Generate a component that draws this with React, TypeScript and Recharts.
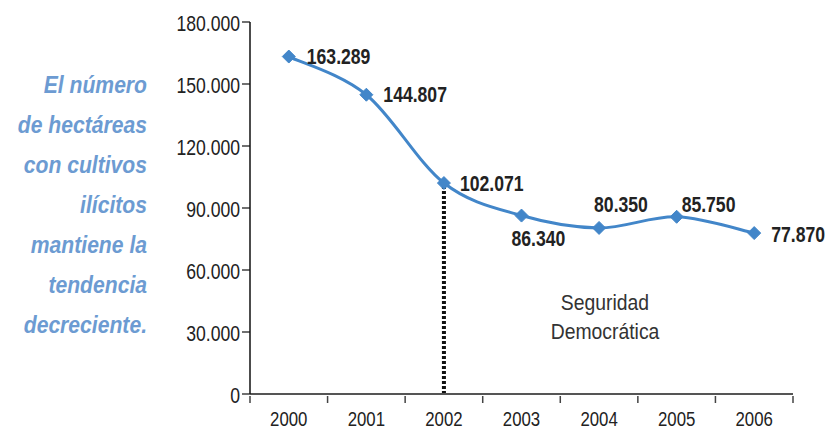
import React from 'react';
import { LineChart, Line, XAxis, YAxis, ReferenceLine, Customized } from 'recharts';

const years = ['2000', '2001', '2002', '2003', '2004', '2005', '2006'];
const hectares = [163289, 144807, 102071, 86340, 80350, 85750, 77870];
const yTicks = [0, 30000, 60000, 90000, 120000, 150000, 180000];
const noteLines = ['El número', 'de hectáreas', 'con cultivos', 'ilícitos', 'mantiene la', 'tendencia', 'decreciente.'];
const annotationLines = ['Seguridad', 'Democrática'];
const policyStartYear = '2002';

const data = years.map((year, i) => ({ year, value: hectares[i] }));

const W = 832;
const H = 431;
const MARGIN = { top: 22, right: 39, bottom: 0, left: 0 };
const Y_AXIS_W = 250;
const X_AXIS_H = 37;
const PLOT_W = W - MARGIN.left - MARGIN.right - Y_AXIS_W;
const STEP = PLOT_W / years.length;

const FONT = '"Liberation Sans", Arial, sans-serif';
const SX = 0.8; // horizontal condensing to mimic a narrow face
const BLUE = '#4286C9';
const NOTE_BLUE = '#6C9BD2';

const fmt = (n: number) => n.toString().replace(/\B(?=(\d{3})+(?!\d))/g, '.');

// Excel-like smoothed line (Catmull-Rom spline)
const smoothCurve = (context: any) => {
  let pts: [number, number][] = [];
  return {
    areaStart() {},
    areaEnd() {},
    lineStart() {
      pts = [];
    },
    lineEnd() {
      if (!pts.length) return;
      context.moveTo(pts[0][0], pts[0][1]);
      for (let i = 0; i < pts.length - 1; i++) {
        const p0 = pts[i - 1] || pts[i];
        const p1 = pts[i];
        const p2 = pts[i + 1];
        const p3 = pts[i + 2] || p2;
        const t = 1 / 6;
        context.bezierCurveTo(
          p1[0] + (p2[0] - p0[0]) * t,
          p1[1] + (p2[1] - p0[1]) * t,
          p2[0] - (p3[0] - p1[0]) * t,
          p2[1] - (p3[1] - p1[1]) * t,
          p2[0],
          p2[1]
        );
      }
    },
    point(x: number, y: number) {
      pts.push([+x, +y]);
    },
  };
};

const NarrowText = ({ x, y, anchor = 'start', size = 22, weight = 'normal', fill = '#222', scale = SX, children }: any) => (
  <text
    transform={`translate(${x},${y}) scale(${scale},1)`}
    x={0}
    y={0}
    textAnchor={anchor}
    dominantBaseline="central"
    fontFamily={FONT}
    fontSize={size}
    fontWeight={weight}
    fill={fill}
  >
    {children}
  </text>
);

// label offsets relative to each point: [dx, dy]
const labelOffsets: [number, number][] = [
  [18, 0],
  [17, 0],
  [16, 0],
  [-10, 23],
  [-5, -24],
  [5, -13],
  [17, 1],
];

const Diamond = (props: any) => {
  const { cx, cy } = props;
  if (cx == null || cy == null) return null;
  const r = 6.5;
  return (
    <polygon
      points={`${cx},${cy - r} ${cx + r},${cy} ${cx},${cy + r} ${cx - r},${cy}`}
      fill={BLUE}
      stroke={BLUE}
      strokeWidth={1}
    />
  );
};

const ValueLabel = (props: any) => {
  const { x, y, index, value } = props;
  const [dx, dy] = labelOffsets[index] || [10, 0];
  return (
    <NarrowText x={x + dx} y={y + dy} size={22} weight="bold" fill="#222">
      {fmt(value)}
    </NarrowText>
  );
};

const XTick = (props: any) => {
  const { x, y, payload, index } = props;
  const axisY = y - 8;
  return (
    <g>
      <line x1={x - STEP / 2} x2={x - STEP / 2} y1={axisY} y2={axisY + 7} stroke="#444" strokeWidth={1.5} />
      {index === years.length - 1 && (
        <line x1={x + STEP / 2} x2={x + STEP / 2} y1={axisY} y2={axisY + 7} stroke="#444" strokeWidth={1.5} />
      )}
      <NarrowText x={x} y={axisY + 23} anchor="middle" size={21} fill="#222">
        {payload.value}
      </NarrowText>
    </g>
  );
};

const YTick = (props: any) => {
  const { x, y, payload } = props;
  return (
    <NarrowText x={x} y={y + 1} anchor="end" size={22} fill="#222">
      {fmt(payload.value)}
    </NarrowText>
  );
};

const Annotation = () => (
  <g>
    {annotationLines.map((t, i) => (
      <NarrowText key={t} x={605} y={302 + i * 29} anchor="middle" size={22} scale={0.88} fill="#333">
        {t}
      </NarrowText>
    ))}
  </g>
);

export default function App() {
  return (
    <div style={{ position: 'absolute', left: 0, top: 0, width: W, height: H, background: '#fff', overflow: 'hidden' }}>
      <div
        style={{
          position: 'absolute',
          left: 0,
          top: 65,
          width: 147,
          textAlign: 'right',
          fontFamily: FONT,
          fontStyle: 'italic',
          fontWeight: 'bold',
          fontSize: 24,
          lineHeight: '40px',
          color: NOTE_BLUE,
        }}
      >
        {noteLines.map((l) => (
          <div key={l} style={{ transform: 'scaleX(0.88)', transformOrigin: 'right center', whiteSpace: 'nowrap' }}>
            {l}
          </div>
        ))}
      </div>
      <div style={{ position: 'absolute', left: 0, top: 0 }}>
        <LineChart width={W} height={H} data={data} margin={MARGIN}>
          <XAxis
            dataKey="year"
            scale="band"
            interval={0}
            height={X_AXIS_H}
            axisLine={{ stroke: '#555', strokeWidth: 2 }}
            tickLine={false}
            tickSize={8}
            tick={<XTick />}
          />
          <YAxis
            width={Y_AXIS_W}
            domain={[0, 180000]}
            ticks={yTicks}
            interval={0}
            axisLine={{ stroke: '#111', strokeWidth: 1.5 }}
            tickLine={{ stroke: '#111', strokeWidth: 1.2 }}
            tickSize={8}
            tickMargin={2}
            tick={<YTick />}
          />
          <ReferenceLine
            segment={[
              { x: policyStartYear, y: 0 },
              { x: policyStartYear, y: hectares[years.indexOf(policyStartYear)] },
            ]}
            stroke="#111"
            strokeWidth={4}
            strokeDasharray="3 2"
          />
          <Line
            type={smoothCurve as any}
            dataKey="value"
            stroke={BLUE}
            strokeWidth={3}
            dot={<Diamond />}
            activeDot={false}
            label={<ValueLabel />}
            isAnimationActive={false}
          />
          <Customized component={<Annotation />} />
        </LineChart>
      </div>
    </div>
  );
}
